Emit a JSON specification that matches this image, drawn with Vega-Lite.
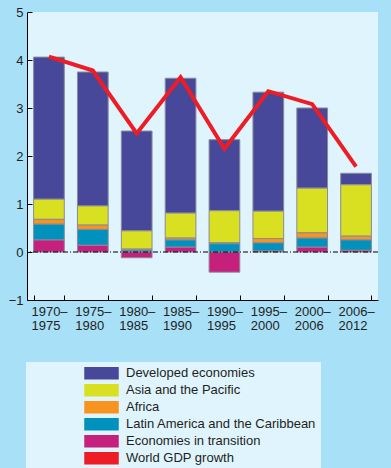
{
  "$schema": "https://vega.github.io/schema/vega-lite/v6.json",
  "width": 351,
  "height": 288,
  "autosize": {"type": "none"},
  "padding": {"left": 27, "top": 12, "right": 13, "bottom": 168},
  "background": "#a8e0f8",
  "view": {"fill": "#e0f4fd", "stroke": null},
  "config": {"font": "Liberation Sans"},
  "datasets": {
    "shares": [
      {"period": "1970–1975", "series": "Developed economies", "value": 2.96},
      {"period": "1970–1975", "series": "Asia and the Pacific", "value": 0.42},
      {"period": "1970–1975", "series": "Africa", "value": 0.10},
      {"period": "1970–1975", "series": "Latin America and the Caribbean", "value": 0.33},
      {"period": "1970–1975", "series": "Economies in transition", "value": 0.25},
      {"period": "1975–1980", "series": "Developed economies", "value": 2.79},
      {"period": "1975–1980", "series": "Asia and the Pacific", "value": 0.40},
      {"period": "1975–1980", "series": "Africa", "value": 0.09},
      {"period": "1975–1980", "series": "Latin America and the Caribbean", "value": 0.33},
      {"period": "1975–1980", "series": "Economies in transition", "value": 0.14},
      {"period": "1980–1985", "series": "Developed economies", "value": 2.08},
      {"period": "1980–1985", "series": "Asia and the Pacific", "value": 0.38},
      {"period": "1980–1985", "series": "Africa", "value": 0.02},
      {"period": "1980–1985", "series": "Latin America and the Caribbean", "value": 0.04},
      {"period": "1980–1985", "series": "Economies in transition", "value": -0.12},
      {"period": "1985–1990", "series": "Developed economies", "value": 2.81},
      {"period": "1985–1990", "series": "Asia and the Pacific", "value": 0.52},
      {"period": "1985–1990", "series": "Africa", "value": 0.04},
      {"period": "1985–1990", "series": "Latin America and the Caribbean", "value": 0.15},
      {"period": "1985–1990", "series": "Economies in transition", "value": 0.10},
      {"period": "1990–1995", "series": "Developed economies", "value": 1.48},
      {"period": "1990–1995", "series": "Asia and the Pacific", "value": 0.67},
      {"period": "1990–1995", "series": "Africa", "value": 0.02},
      {"period": "1990–1995", "series": "Latin America and the Caribbean", "value": 0.17},
      {"period": "1990–1995", "series": "Economies in transition", "value": -0.42},
      {"period": "1995–2000", "series": "Developed economies", "value": 2.48},
      {"period": "1995–2000", "series": "Asia and the Pacific", "value": 0.57},
      {"period": "1995–2000", "series": "Africa", "value": 0.09},
      {"period": "1995–2000", "series": "Latin America and the Caribbean", "value": 0.17},
      {"period": "1995–2000", "series": "Economies in transition", "value": 0.02},
      {"period": "2000–2006", "series": "Developed economies", "value": 1.67},
      {"period": "2000–2006", "series": "Asia and the Pacific", "value": 0.93},
      {"period": "2000–2006", "series": "Africa", "value": 0.11},
      {"period": "2000–2006", "series": "Latin America and the Caribbean", "value": 0.19},
      {"period": "2000–2006", "series": "Economies in transition", "value": 0.10},
      {"period": "2006–2012", "series": "Developed economies", "value": 0.24},
      {"period": "2006–2012", "series": "Asia and the Pacific", "value": 1.07},
      {"period": "2006–2012", "series": "Africa", "value": 0.08},
      {"period": "2006–2012", "series": "Latin America and the Caribbean", "value": 0.215},
      {"period": "2006–2012", "series": "Economies in transition", "value": 0.035}
    ],
    "seriesRank": [
      {"series": "Economies in transition", "rank": 1},
      {"series": "Latin America and the Caribbean", "rank": 2},
      {"series": "Africa", "rank": 3},
      {"series": "Asia and the Pacific", "rank": 4},
      {"series": "Developed economies", "rank": 5}
    ],
    "gdp": [
      {"period": "1970–1975", "series": "World GDP growth", "growth": 4.07},
      {"period": "1975–1980", "series": "World GDP growth", "growth": 3.78},
      {"period": "1980–1985", "series": "World GDP growth", "growth": 2.47},
      {"period": "1985–1990", "series": "World GDP growth", "growth": 3.64},
      {"period": "1990–1995", "series": "World GDP growth", "growth": 2.15},
      {"period": "1995–2000", "series": "World GDP growth", "growth": 3.35},
      {"period": "2000–2006", "series": "World GDP growth", "growth": 3.08},
      {"period": "2006–2012", "series": "World GDP growth", "growth": 1.78}
    ],
    "baseline": [{"level": 0}]
  },
  "layer": [
    {
      "data": {"name": "shares"},
      "transform": [
        {"lookup": "series", "from": {"data": {"name": "seriesRank"}, "key": "series", "fields": ["rank"]}}
      ],
      "mark": {"type": "bar", "stroke": "#8a8a9a", "strokeWidth": 1},
      "encoding": {
        "x": {
          "field": "period", "type": "nominal", "sort": null,
          "scale": {"paddingInner": 0.3, "paddingOuter": 0.15},
          "axis": {
            "title": null, "labelAngle": 0, "labelAlign": "left", "labelOffset": -18,
            "labelExpr": "[slice(datum.label,0,5), slice(datum.label,5)]",
            "labelFontSize": 13, "labelColor": "#231f20", "labelLineHeight": 14,
            "labelPadding": 10, "tickBand": "extent", "tickSize": -5,
            "tickColor": "#000", "domainColor": "#000", "domainWidth": 1
          }
        },
        "y": {
          "field": "value", "type": "quantitative", "stack": "zero",
          "scale": {"domain": [-1, 5], "nice": false, "zero": false},
          "axis": {
            "title": null, "values": [-1, 0, 1, 2, 3, 4, 5], "grid": false,
            "tickSize": -5, "tickColor": "#000", "domainColor": "#000",
            "labelFontSize": 13, "labelColor": "#231f20", "labelPadding": 9
          }
        },
        "order": {"field": "rank", "type": "quantitative", "sort": "ascending"},
        "color": {
          "field": "series", "type": "nominal",
          "scale": {
            "domain": ["Developed economies", "Asia and the Pacific", "Africa", "Latin America and the Caribbean", "Economies in transition", "World GDP growth"],
            "range": ["#48489a", "#d8e021", "#f6941f", "#0091bc", "#c4207c", "#ee1c25"]
          },
          "legend": {
            "orient": "none", "legendX": -1, "legendY": 350, "direction": "vertical",
            "title": null, "fillColor": "#e0f4fd", "padding": 4,
            "symbolType": "M-1,-0.33H1V0.33H-1Z", "symbolSize": 1089,
            "clipHeight": 14.4, "rowPadding": 2, "symbolOffset": 54, "labelOffset": 7,
            "labelFontSize": 13, "labelColor": "#231f20", "labelLimit": 400,
            "labelExpr": "datum.label === 'Latin America and the Caribbean' ? datum.label + '               ' : datum.label",
            "encode": {
              "symbols": {
                "update": {
                  "shape": {"signal": "datum.value === 'World GDP growth' ? 'M-1,-0.12H1V0.12H-1Z' : 'M-1,-0.33H1V0.33H-1Z'"},
                  "fill": {"signal": "scale('color', datum.value)"},
                  "stroke": {"signal": "datum.value === 'World GDP growth' || datum.value === 'Economies in transition' ? 'transparent' : '#8a8a9a'"},
                  "strokeWidth": {"value": 1},
                  "opacity": {"value": 1}
                }
              }
            }
          }
        }
      }
    },
    {
      "data": {"name": "baseline"},
      "mark": {"type": "rule", "color": "#000", "strokeWidth": 1, "strokeDash": [5, 2, 1, 2]},
      "encoding": {"y": {"field": "level", "type": "quantitative"}}
    },
    {
      "data": {"name": "gdp"},
      "mark": {"type": "line", "strokeWidth": 4, "strokeJoin": "miter"},
      "encoding": {
        "x": {"field": "period", "type": "nominal", "sort": null},
        "y": {"field": "growth", "type": "quantitative"},
        "color": {"field": "series", "type": "nominal"}
      }
    }
  ]
}
